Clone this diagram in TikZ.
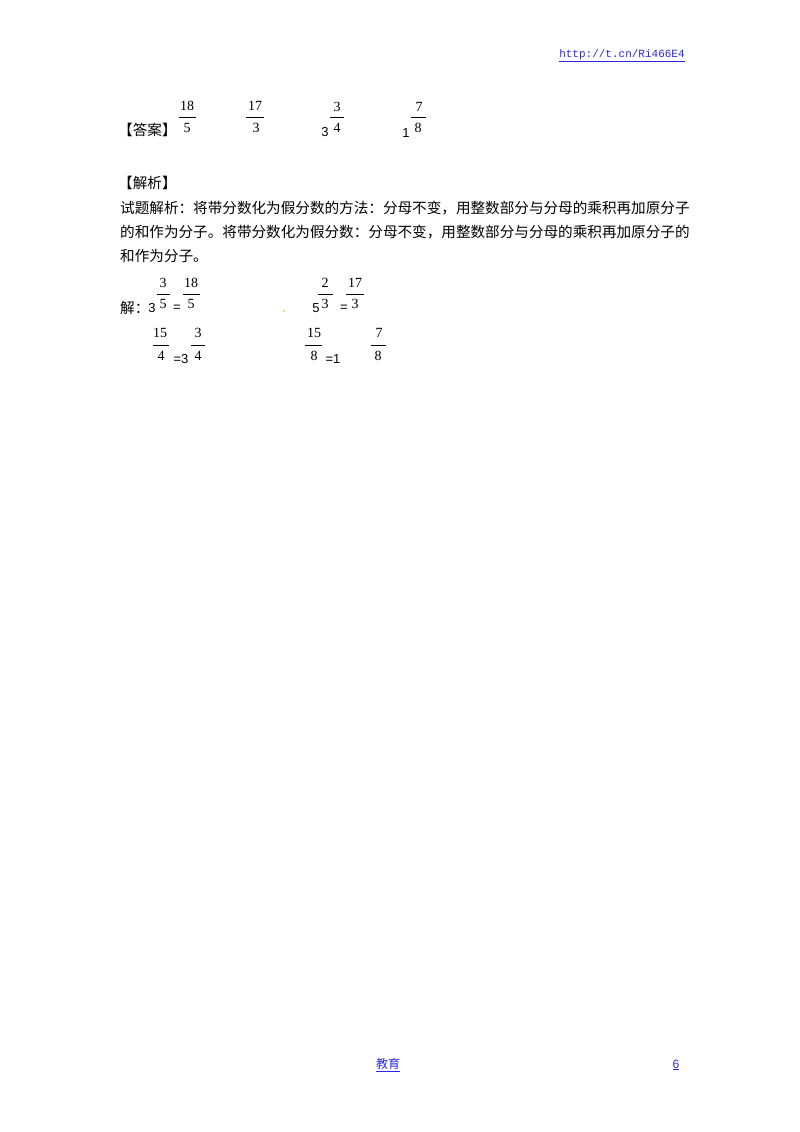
\documentclass[tikz,border=0pt]{standalone}
\usepackage{fontspec}
\setmainfont{Liberation Serif}
\newfontfamily\cjk{Noto Sans CJK SC}
\newfontfamily\lsans{Liberation Sans}
\newfontfamily\lmono{Liberation Mono}
\definecolor{linkblue}{RGB}{40,40,230}
\begin{document}
\begin{tikzpicture}[x=1pt,y=-1pt,
  num/.style={font=\fontsize{14}{14}\selectfont, inner sep=0pt},
  big/.style={font=\lsans\fontsize{13}{13}\selectfont, inner sep=0pt},
  zh/.style={font=\cjk\fontsize{14.6}{14.6}\selectfont, inner sep=0pt, anchor=west},
  bar/.style={line width=0.6pt},
  lnk/.style={text=linkblue, inner sep=0pt}]
\useasboundingbox (0,0) rectangle (800,1132);
\node[lnk, font=\lmono\fontsize{11}{11}\selectfont] (url) at (622,56) {\underline{http://t.cn/Ri466E4}};
% answer
\node[zh] (ans) at (118,130) {【答案】};
\node[num] (a1n) at (187,106) {18}; \draw[bar] (179,117) -- (196,117); \node[num] (a1d) at (187,128) {5};
\node[num] (a2n) at (255,106) {17}; \draw[bar] (246,117) -- (264,117); \node[num] (a2d) at (256,128) {3};
\node[big] (a3w) at (325,132) {3};
\node[num] (a3n) at (337,107) {3}; \draw[bar] (330,117) -- (344,117); \node[num] (a3d) at (337,128) {4};
\node[big] (a4w) at (406,133) {1};
\node[num] (a4n) at (419,107) {7}; \draw[bar] (411,117) -- (426,117); \node[num] (a4d) at (418,128) {8};
% analysis
\node[zh] (jx) at (118,183) {【解析】};
\node[zh] (l1) at (120,208) {试题解析：将带分数化为假分数的方法：分母不变，用整数部分与分母的乘积再加原分子};
\node[zh] (l2) at (120,232) {的和作为分子。将带分数化为假分数：分母不变，用整数部分与分母的乘积再加原分子的};
\node[zh] (l3) at (120,256) {和作为分子。};
% solution row 1
\node[zh] (jie) at (120,308) {解：};
\node[big] (s1w) at (152,308) {3};
\node[num] (s1n) at (163,283) {3}; \draw[bar] (157,294) -- (170,294); \node[num] (s1d) at (163,304) {5};
\node[big] (s1e) at (177,308) {=};
\node[num] (s2n) at (191,283) {18}; \draw[bar] (183,294) -- (200,294); \node[num] (s2d) at (191,304) {5};
\fill[orange!70!yellow] (284,311) circle (0.9);
\node[big] (s3w) at (316,308) {5};
\node[num] (s3n) at (325,283) {2}; \draw[bar] (318,294) -- (333,294); \node[num] (s3d) at (325,304) {3};
\node[big] (s3e) at (344,308) {=};
\node[num] (s4n) at (355,283) {17}; \draw[bar] (346,294) -- (364,294); \node[num] (s4d) at (355,304) {3};
% row 2
\node[num] (r1n) at (160,333) {15}; \draw[bar] (153,345) -- (169,345); \node[num] (r1d) at (161,356) {4};
\node[big] (r1e) at (181,359) {=3};
\node[num] (r2n) at (198,333) {3}; \draw[bar] (191,345) -- (205,345); \node[num] (r2d) at (198,356) {4};
\node[num] (r3n) at (314,333) {15}; \draw[bar] (305,345) -- (322,345); \node[num] (r3d) at (314,356) {8};
\node[big] (r3e) at (333,359) {=1};
\node[num] (r4n) at (379,333) {7}; \draw[bar] (371,345) -- (386,345); \node[num] (r4d) at (378,356) {8};
% footer
\node[lnk, font=\cjk\fontsize{12}{12}\selectfont] (foot) at (388,1065) {\underline{教育}};
\node[lnk, font=\lsans\fontsize{12}{12}\selectfont] (pg) at (676,1065) {\underline{6}};
\end{tikzpicture}
\end{document}
